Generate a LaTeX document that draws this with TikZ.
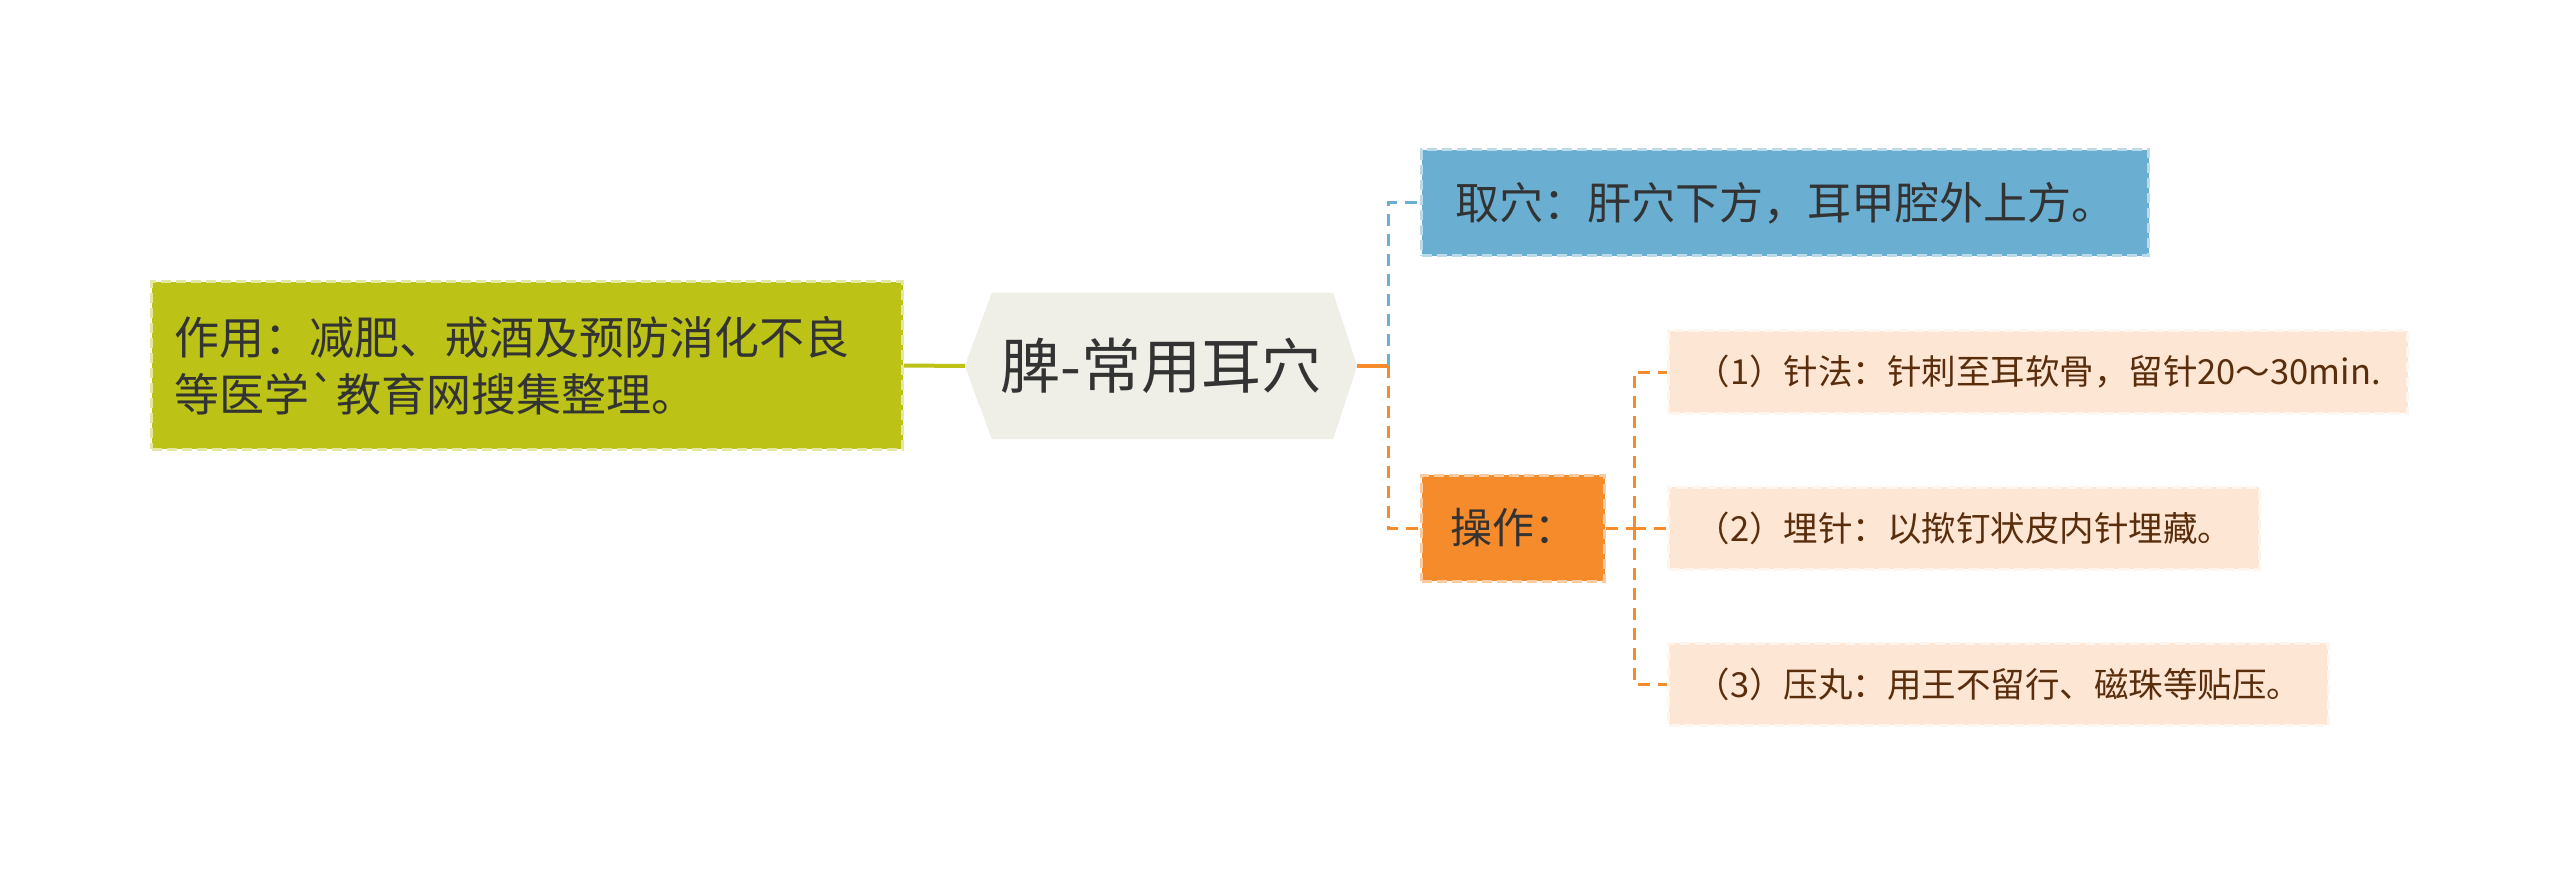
\documentclass[tikz,border=0pt]{standalone}
\usepackage{fontspec}
\newfontfamily\cjk{Noto Sans CJK SC}
\usetikzlibrary{calc}
\definecolor{cgreen}{HTML}{BCC316}
\definecolor{cblue}{HTML}{6AAFD1}
\definecolor{corange}{HTML}{F68B2C}
\definecolor{cpeach}{HTML}{FDE6D4}
\definecolor{chex}{HTML}{EFEFE7}
\definecolor{ctext}{HTML}{333333}
\definecolor{cbrown}{HTML}{5A2D0C}
\tikzset{
  box/.style={rectangle, line width=3pt, dash pattern=on 10pt off 5pt, text=ctext},
  greenbox/.style={box, fill=cgreen, draw=cgreen!40!white, font=\cjk\fontsize{45}{57}\selectfont, align=left, text width=705pt, inner xsep=23pt, minimum height=167pt},
  bluebox/.style={box, fill=cblue, draw=cblue!45!white, font=\cjk\fontsize{44}{52}\selectfont, minimum width=727pt, minimum height=106pt, inner xsep=25pt},
  orangebox/.style={box, fill=corange, draw=corange!45!white, font=\cjk\fontsize{42}{50}\selectfont, minimum width=183pt, minimum height=106pt, inner xsep=24pt},
  itembox/.style={box, fill=cpeach, draw=cpeach!40!white, text=cbrown, font=\cjk\fontsize{34.5}{42}\selectfont, minimum height=82pt, inner xsep=27pt},
  link/.style={line width=4pt},
  dlink/.style={line width=3pt, dash pattern=on 12pt off 8pt},
}
\begin{document}
\begin{tikzpicture}[x=1pt,y=-1pt]
\useasboundingbox (0,0) rectangle (2560,877);
% center hexagon
\node[minimum width=392pt, minimum height=146pt, inner sep=0pt] (hex) at (1161,366) {};
\fill[chex] (hex.west) -- ($(hex.north west)+(27,0)$) -- ($(hex.north east)+(-24,0)$) -- (hex.east) -- ($(hex.south east)+(-24,0)$) -- ($(hex.south west)+(27,0)$) -- cycle;
\node[text=ctext, font=\cjk\fontsize{60}{70}\selectfont] (title) at (hex.center) {脾-常用耳穴};
% left
\node[greenbox, anchor=west] (lb) at (150,365.5) {作用：减肥、戒酒及预防消化不良\\等医学`教育网搜集整理。};
% right top
\node[bluebox, anchor=west] (qx) at (1420,203) {取穴：肝穴下方，耳甲腔外上方。};
\node[orangebox, anchor=west] (cz) at (1420,528) {操作：};
% items
\node[itembox, anchor=west] (i1) at (1667,372) {（1）针法：针刺至耳软骨，留针20～30min.};
\node[itembox, anchor=west] (i2) at (1667,528) {（2）埋针：以揿钉状皮内针埋藏。};
\node[itembox, anchor=west] (i3) at (1667,684) {（3）压丸：用王不留行、磁珠等贴压。};
% connectors
\coordinate (b1) at (1388,366);
\coordinate (b2) at (1634,528);
\draw[link, cgreen] (lb.east) -- (hex.west);
\draw[link, corange] (hex.east) -- (b1);
\draw[dlink, cblue] (b1) |- (qx.west);
\draw[dlink, corange] (b1) |- (cz.west);
\draw[dlink, corange] (cz.east) -- (b2);
\draw[dlink, corange] (b2) |- (i1.west);
\draw[dlink, corange] (b2) -- (i2.west);
\draw[dlink, corange] (b2) |- (i3.west);
\end{tikzpicture}
\end{document}
